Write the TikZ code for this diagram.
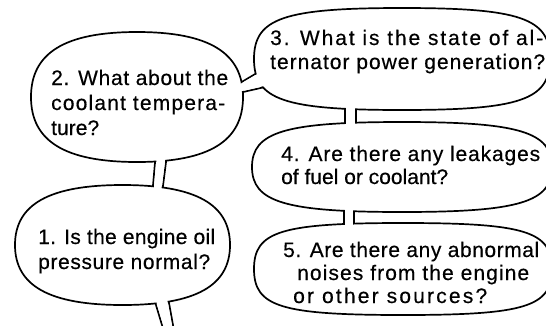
\documentclass[tikz,border=0pt]{standalone}
\usepackage{fontspec}
\setmainfont{Liberation Sans}[FakeBold=0.4]
\newlength\natw
\newlength\testw
\newcommand\fl[2]{%
  \settowidth\natw{#2}%
  \settowidth\testw{\addfontfeatures{LetterSpace=10}#2}%
  \pgfmathsetmacro\lsv{max(0,10*(#1-\natw)/(\testw-\natw))}%
  {\addfontfeatures{LetterSpace=\lsv}#2}}
\begin{document}
\begin{tikzpicture}[x=1pt,y=-1pt,
  ol/.style={line width=1.7pt, line join=round, line cap=round},
  gap/.style={fill=white, draw=none},
  txt/.style={anchor=base west, inner sep=0pt, font=\fontsize{21}{24}\selectfont},
  pics/bubble/.style n args={3}{code={
    \draw[ol, fill=white] (#1,0) .. controls (#1,{#3*#2}) and ({#3*#1},#2) .. (0,#2)
      .. controls ({-#3*#1},#2) and (-#1,{#3*#2}) .. (-#1,0)
      .. controls (-#1,{-#3*#2}) and ({-#3*#1},-#2) .. (0,-#2)
      .. controls ({#3*#1},-#2) and (#1,{-#3*#2}) .. cycle;
  }}
]
\useasboundingbox (0,0) rectangle (546,325);
\clip (0,0) rectangle (546,325);
% bubble centres
\coordinate (c1) at (122.5,245);
\coordinate (c2) at (137,97);
\coordinate (c3) at (402,59);
\coordinate (c4) at (402,167);
\coordinate (c5) at (403,269);
% neck / tail end points
\coordinate (ta1) at (230,88.9);  \coordinate (tb1) at (272,64.1);
\coordinate (ta2) at (232,94.5);  \coordinate (tb2) at (280,83.6);
\coordinate (na1) at (156.1,150); \coordinate (nb1) at (152.0,197);
\coordinate (na2) at (167.5,150); \coordinate (nb2) at (161.6,197);
\coordinate (ma1) at (153,295);   \coordinate (mb1) at (163.5,330);
\coordinate (ma2) at (167.2,293); \coordinate (mb2) at (173.9,330);
\coordinate (pa1) at (345,100);   \coordinate (pb1) at (345,134);
\coordinate (pa2) at (356,100);   \coordinate (pb2) at (356,134);
\coordinate (ra1) at (344,203);   \coordinate (rb1) at (344,233);
\coordinate (ra2) at (354,203);   \coordinate (rb2) at (354,233);
% connector lines
\draw[ol] (ta1) -- (tb1);
\draw[ol] (ta2) -- (tb2);
\draw[ol] (na1) -- (nb1);
\draw[ol] (na2) -- (nb2);
\draw[ol] (ma1) -- (mb1);
\draw[ol] (ma2) -- (mb2);
\draw[ol] (pa1) -- (pb1);
\draw[ol] (pa2) -- (pb2);
\draw[ol] (ra1) -- (rb1);
\draw[ol] (ra2) -- (rb2);
% bubbles
\pic at (c2) {bubble={106}{65}{0.68}};
\pic at (c1) {bubble={107.5}{60}{0.68}};
\pic at (c3) {bubble={148}{51}{0.80}};
\pic at (c4) {bubble={150}{45}{0.78}};
\pic at (c5) {bubble={149}{46}{0.82}};
% openings
\fill[gap] (230,90.1) -- (272,65.3) -- (280,82.4) -- (232,93.3) -- cycle;
\fill[gap] (157.3,150) -- (153.2,197) -- (160.4,197) -- (166.3,150) -- cycle;
\fill[gap] (154.2,295) -- (164.7,330) -- (172.7,330) -- (166,293) -- cycle;
\fill[gap] (346.2,100) rectangle (354.8,134);
\fill[gap] (345.2,203) rectangle (352.8,233);
% texts
\node[txt] (q2a) at (51,85)  {\fl{177}{2. What about the}};
\node[txt] (q2b) at (51,110) {\fl{174}{coolant tempera-}};
\node[txt] (q2c) at (51,135) {\fl{48}{ture?}};
\node[txt] (q1a) at (38,244) {\fl{177}{1. Is the engine oil}};
\node[txt] (q1b) at (38,269) {\fl{172}{pressure normal?}};
\node[txt] (q3a) at (270,45) {\fl{273}{3. What is the state of al-}};
\node[txt] (q3b) at (270,69) {\fl{275}{ternator power generation?}};
\node[txt] (q4a) at (281,161) {\fl{259}{4. Are there any leakages}};
\node[txt] (q4b) at (281,184) {\fl{165}{of fuel or coolant?}};
\node[txt] (q5a) at (283,257) {\fl{256}{5. Are there any abnormal}};
\node[txt] (q5b) at (297,280) {\fl{232}{noises from the engine}};
\node[txt] (q5c) at (293,303) {\fl{194}{or other sources?}};
\end{tikzpicture}
\end{document}
